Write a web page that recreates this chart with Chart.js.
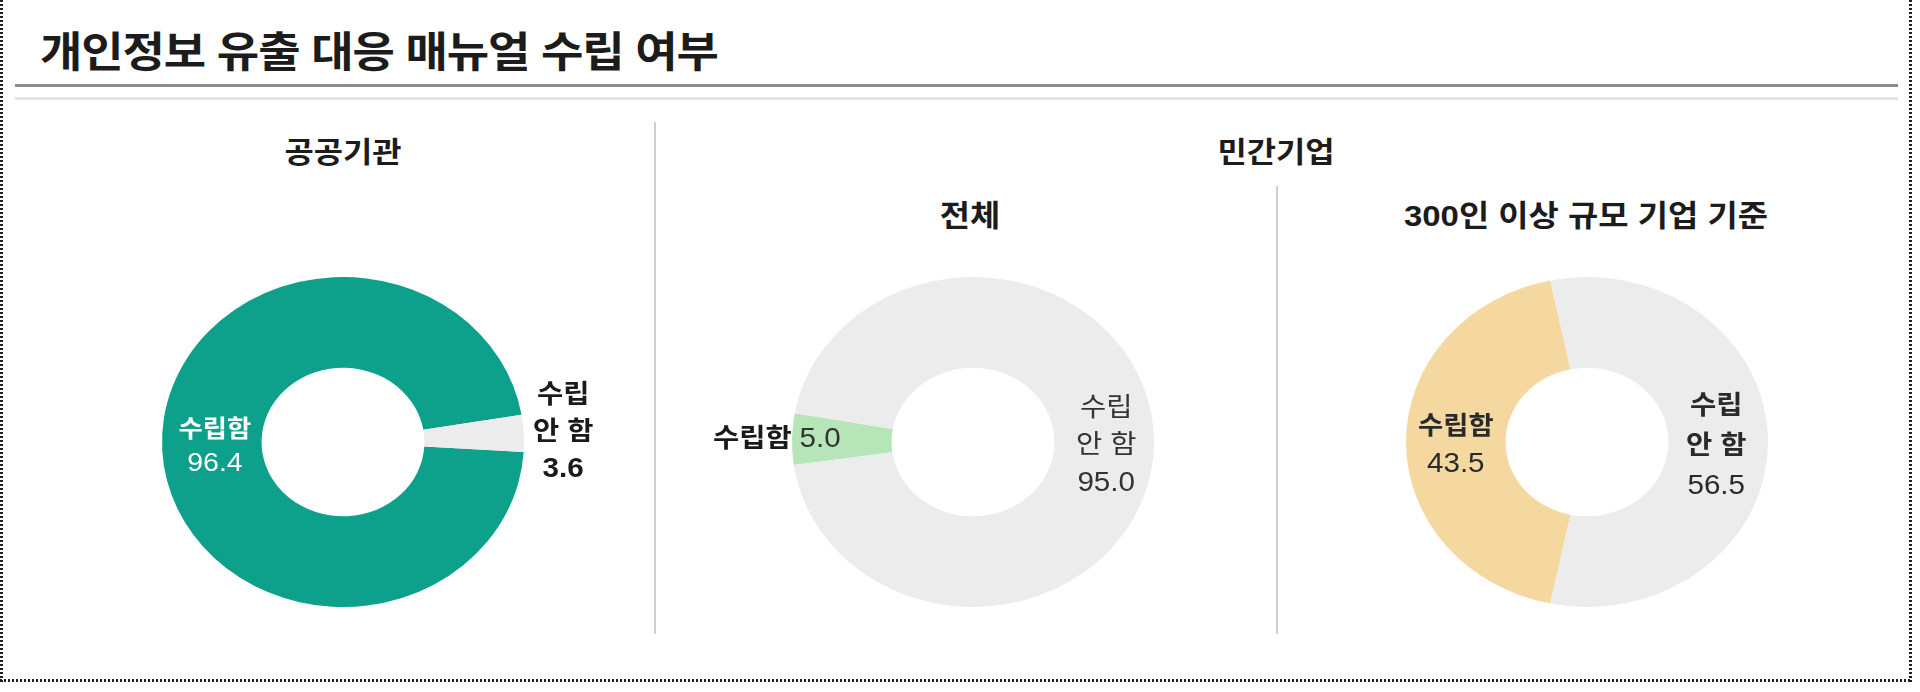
<!DOCTYPE html>
<html lang="ko">
<head>
<meta charset="utf-8">
<script src="https://cdn.jsdelivr.net/npm/chart.js@4.4.0/dist/chart.umd.min.js"></script>
<style>
html,body{margin:0;padding:0;background:#fff;}
body{width:1920px;height:692px;position:relative;overflow:hidden;font-family:'Liberation Sans','Noto Sans CJK KR',sans-serif;}
.dv{position:absolute;width:3px;background:repeating-linear-gradient(to bottom,#1e1e1e 0 2.5px,transparent 2.5px 4px);}
.dh{position:absolute;height:3px;background:repeating-linear-gradient(to right,#1e1e1e 0 2.5px,transparent 2.5px 4px);}
.t{position:absolute;white-space:nowrap;color:#1c1c1c;font-weight:bold;line-height:1;}
.c{transform:translate(-50%,-50%) scaleX(1.097);}
.rule{position:absolute;left:15px;width:1883px;}
.sep{position:absolute;width:2px;background:#cfcfcf;}
canvas{position:absolute;}
</style>
</head>
<body>
<div class="dv" style="left:0;top:0;height:682px;"></div>
<div class="dv" style="left:1909px;top:0;height:682px;"></div>
<div class="dh" style="left:0;top:679px;width:1912px;"></div>
<div class="t" id="title" style="left:40px;top:32px;font-size:42px;line-height:42px;letter-spacing:-1px;transform:scaleX(1.097);transform-origin:left center;"></div>
<div class="rule" style="top:84px;height:3px;background:#8c8c8c;"></div>
<div class="rule" style="top:97px;height:3px;background:#e4e4e4;"></div>
<div class="sep" style="left:654px;top:122px;height:512px;"></div>
<div class="sep" style="left:1276px;top:186px;height:448px;"></div>
<div class="t c" id="h1" style="left:343px;top:153px;font-size:29px;"></div>
<div class="t c" id="h2" style="left:1276px;top:153px;font-size:29px;"></div>
<div class="t c" id="s1" style="left:970px;top:216px;font-size:30px;"></div>
<div class="t c" id="s2" style="left:1586px;top:216px;font-size:30px;"></div>
<canvas id="c1" width="600" height="380" style="left:43px;top:252px;"></canvas>
<canvas id="c2" width="600" height="380" style="left:673px;top:252px;"></canvas>
<canvas id="c3" width="600" height="380" style="left:1287px;top:252px;"></canvas>
<script>
// ---- data ----
const chartTitle = '개인정보 유출 대응 매뉴얼 수립 여부';
const groupTitles = ['공공기관', '민간기업'];
const panelTitles = ['전체', '300인 이상 규모 기업 기준'];
const categories = ['수립함', '수립 안 함'];
const publicValues = [96.4, 3.6];
const privateAllValues = [5.0, 95.0];
const private300Values = [43.5, 56.5];

document.getElementById('title').textContent = chartTitle;
document.getElementById('h1').textContent = groupTitles[0];
document.getElementById('h2').textContent = groupTitles[1];
document.getElementById('s1').textContent = panelTitles[0];
document.getElementById('s2').textContent = panelTitles[1];

const SX = 1.097; // horizontal stretch of the rings and their labels
const FONT = "'Liberation Sans','Noto Sans CJK KR',sans-serif";
const fmt = v => v.toFixed(1);

function labelPos(arc, spec) {
  const mid = (arc.startAngle + arc.endAngle) / 2;
  const r = spec.r === 'mid' ? (arc.innerRadius + arc.outerRadius) / 2 : arc.outerRadius + spec.r;
  return {x: arc.x + Math.cos(mid) * r * SX + (spec.dx || 0), y: arc.y + Math.sin(mid) * r + (spec.dy || 0)};
}

function makePlugin(specs) {
  return {
    id: 'ellipseLabels',
    beforeDatasetsDraw(chart) {
      const a = chart.getDatasetMeta(0).data[0];
      const ctx = chart.ctx;
      ctx.save();
      ctx.translate(a.x, a.y);
      ctx.scale(SX, 1);
      ctx.translate(-a.x, -a.y);
    },
    afterDatasetsDraw(chart) {
      const ctx = chart.ctx;
      ctx.restore();
      const meta = chart.getDatasetMeta(0);
      const vals = chart.data.datasets[0].data;
      meta.data.forEach((arc, i) => {
        const spec = specs[i];
        const p = labelPos(arc, spec);
        const cat = chart.data.labels[i];
        ctx.save();
        ctx.translate(p.x, p.y);
        ctx.scale(SX, 1);
        ctx.textBaseline = 'middle';
        if (spec.inline) {
          const f1 = `${spec.w1} ${spec.size}px ${FONT}`;
          const f2 = `${spec.w2} ${spec.nsize}px ${FONT}`;
          ctx.font = f2; const wv = ctx.measureText(fmt(vals[i])).width;
          ctx.font = f1; const wc = ctx.measureText(cat + ' ').width;
          ctx.textAlign = 'left';
          const x0 = -wv - wc;
          ctx.fillStyle = spec.c1; ctx.font = f1; ctx.fillText(cat, x0, 0);
          ctx.fillStyle = spec.c2; ctx.font = f2; ctx.fillText(fmt(vals[i]), x0 + wc, 0);
        } else {
          const sp = cat.indexOf(' ');
          const lines = sp > 0 ? [cat.slice(0, sp), cat.slice(sp + 1), fmt(vals[i])] : [cat, fmt(vals[i])];
          const n = lines.length;
          ctx.textAlign = 'center';
          lines.forEach((ln, k) => {
            const isNum = k === n - 1;
            ctx.font = isNum ? `${spec.w2} ${spec.nsize}px ${FONT}` : `${spec.w1} ${spec.size}px ${FONT}`;
            ctx.fillStyle = isNum ? spec.c2 : spec.c1;
            ctx.fillText(ln, 0, (k - (n - 1) / 2) * spec.lh);
          });
        }
        ctx.restore();
      });
    }
  };
}

function donut(id, values, colors, firstCenterDeg, specs) {
  const total = values.reduce((a, b) => a + b, 0);
  const rotation = firstCenterDeg - values[0] / total * 180;
  return new Chart(document.getElementById(id), {
    type: 'doughnut',
    data: {labels: categories, datasets: [{data: values, backgroundColor: colors, borderWidth: 0, clip: false}]},
    options: {
      responsive: false, animation: false, events: [],
      cutout: '45%', rotation: rotation,
      layout: {padding: {left: 135, right: 135, top: 25, bottom: 25}},
      plugins: {legend: {display: false}, tooltip: {enabled: false}}
    },
    plugins: [makePlugin(specs)]
  });
}

donut('c1', publicValues, ['#0da08a', '#ececec'], 267, [
  {r: 'mid', dx: 3, dy: -1, size: 24, nsize: 26, lh: 33, w1: 'bold', w2: 'normal', c1: '#ffffff', c2: '#ffffff'},
  {r: 36, dy: 1, size: 26, nsize: 27, lh: 37, w1: 'bold', w2: 'bold', c1: '#1a1a1a', c2: '#1a1a1a'}
]);
donut('c2', privateAllValues, ['#b6e6b7', '#ececec'], 271, [
  {r: 'mid', inline: true, dx: -1, size: 26, nsize: 27, w1: 'bold', w2: 'normal', c1: '#1a1a1a', c2: '#333333'},
  {r: 'mid', dx: 2, dy: 2, size: 26, nsize: 27, lh: 37, w1: 'normal', w2: 'normal', c1: '#333333', c2: '#333333'}
]);
donut('c3', private300Values, ['#f5d7a0', '#ececec'], 270, [
  {r: 'mid', dy: 4, size: 25, nsize: 27, lh: 38, w1: 'bold', w2: 'normal', c1: '#2a2a2a', c2: '#2a2a2a'},
  {r: 'mid', dx: -2, dy: 5, size: 26, nsize: 27, lh: 40, w1: 'bold', w2: 'normal', c1: '#2a2a2a', c2: '#2a2a2a'}
]);
</script>
</body>
</html>
